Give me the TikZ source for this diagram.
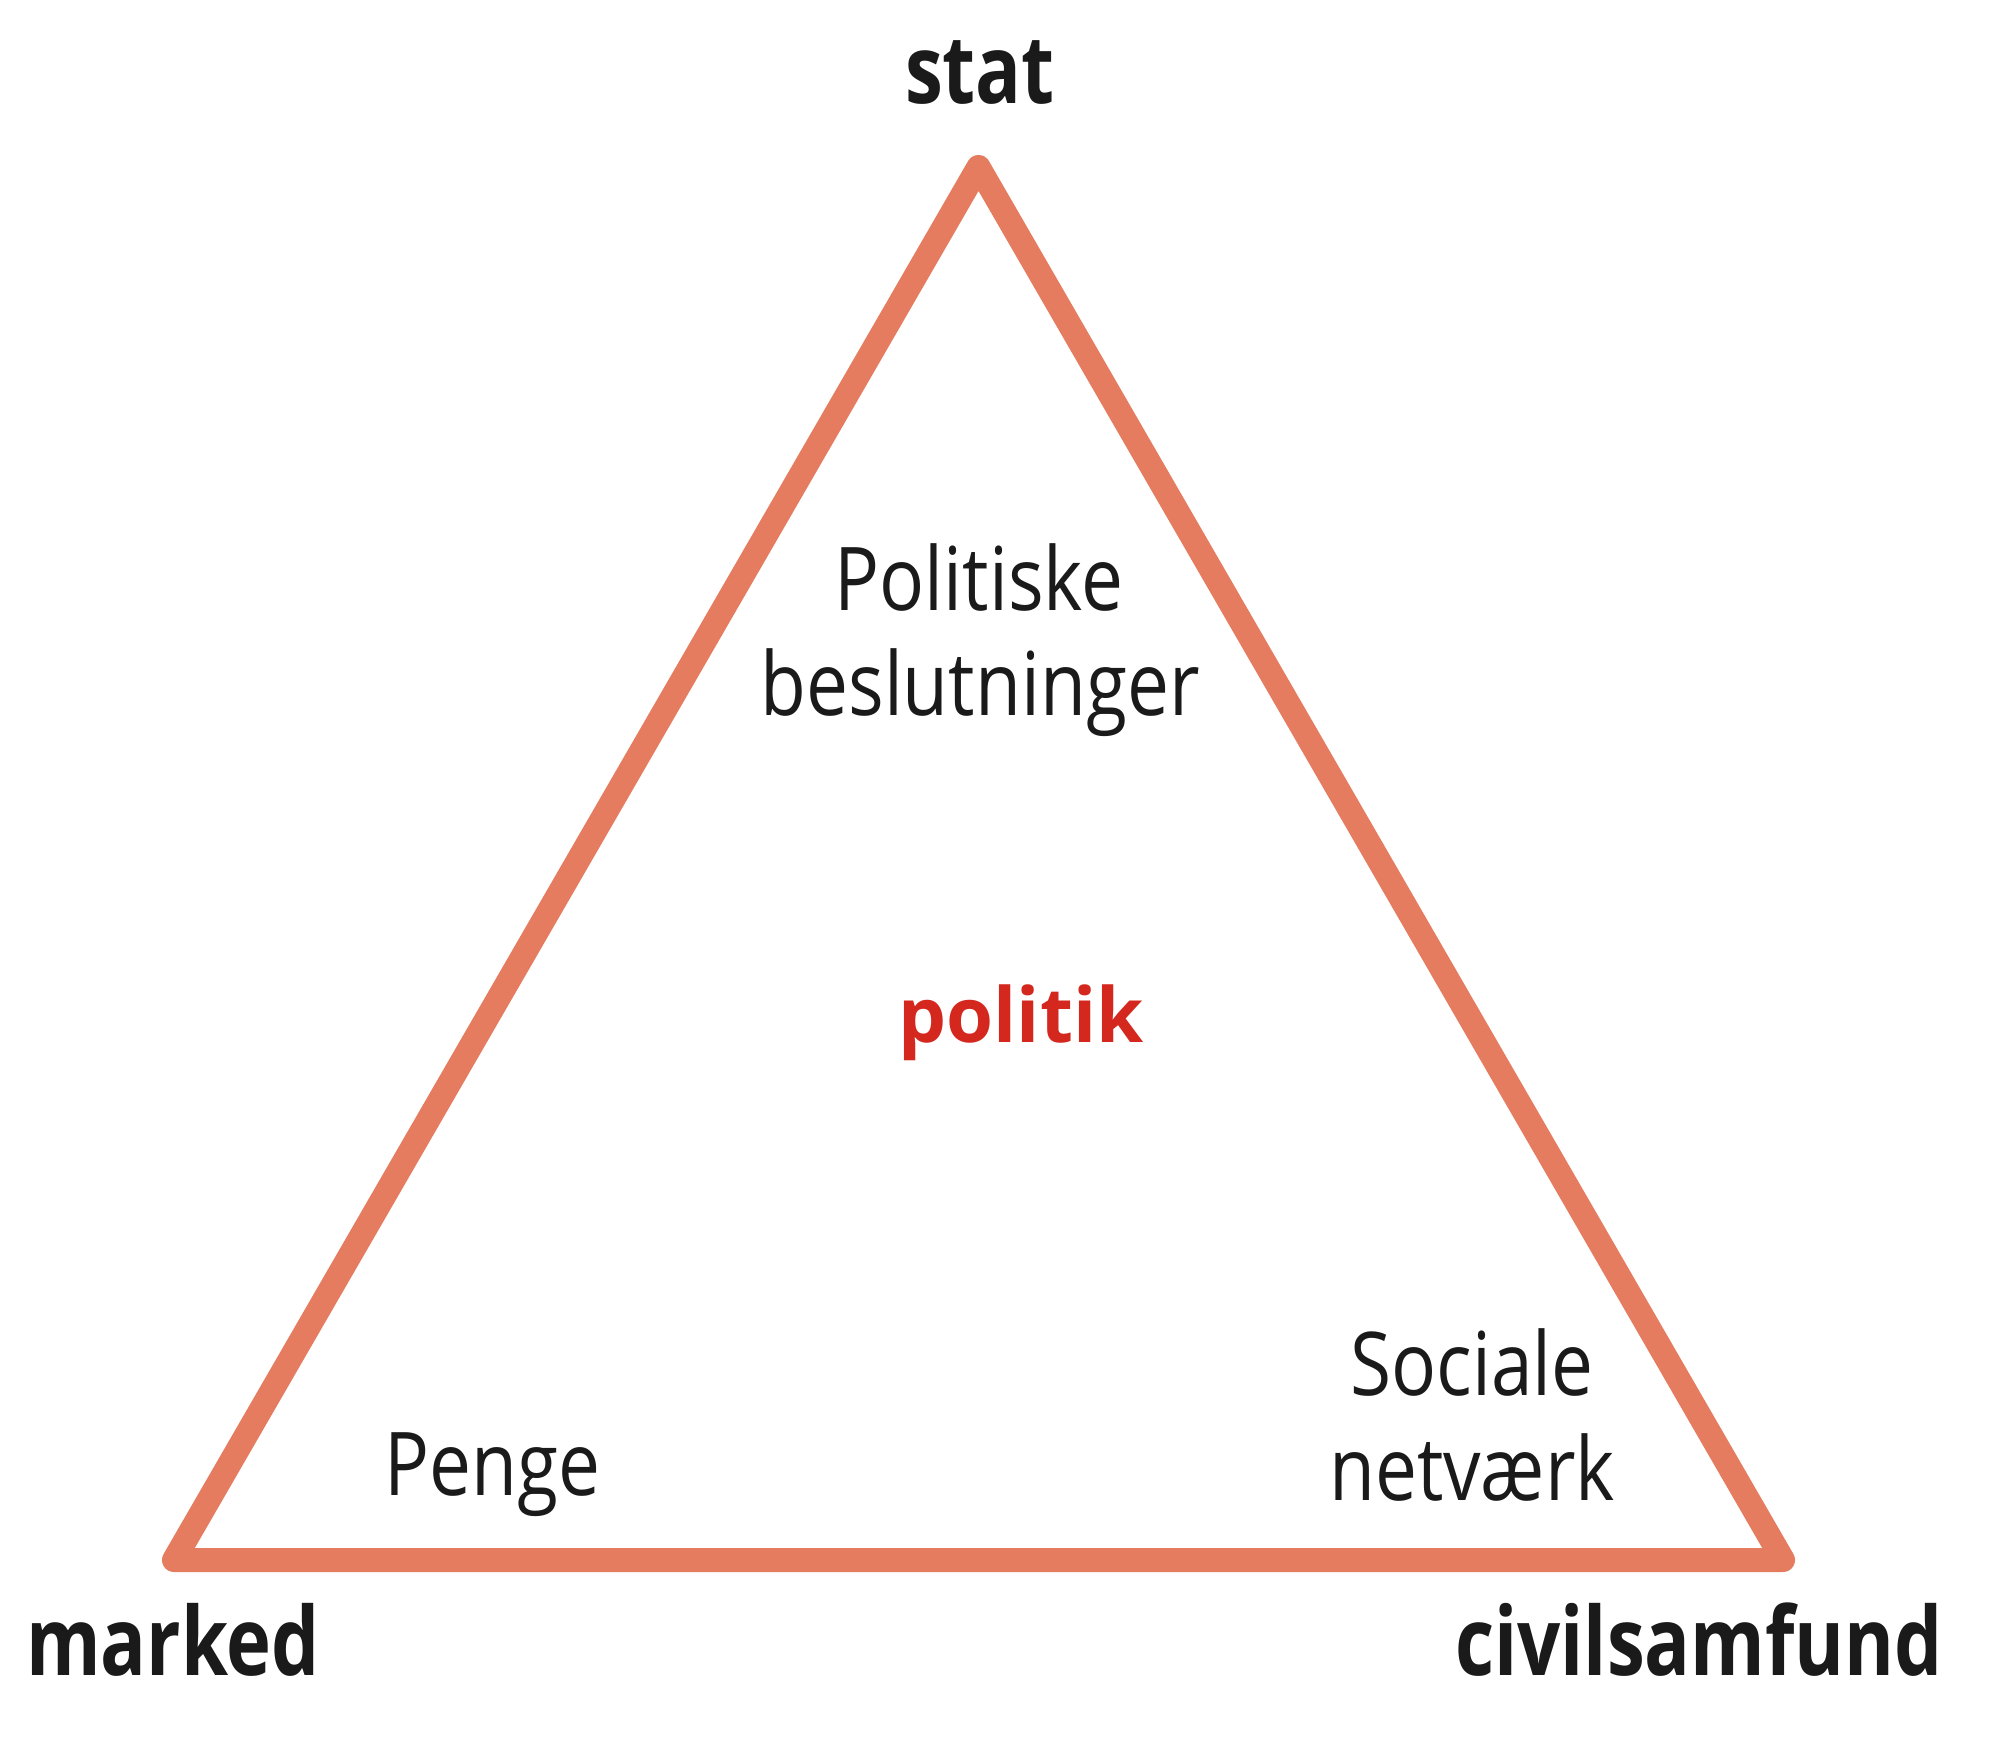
\documentclass[tikz,border=0pt]{standalone}
\usepackage{fontspec}
\newfontfamily\regfont[FakeStretch=0.85]{Open Sans}
\newfontfamily\boldfont[FakeStretch=0.80]{Open Sans}
\newfontfamily\redfont{Open Sans}
\definecolor{tri}{HTML}{E57B5F}
\definecolor{ink}{HTML}{1A1A1A}
\definecolor{polred}{HTML}{D4281E}
\tikzset{
  edge/.style={draw=tri, line width=24pt, line join=round},
  cornerlabel/.style={font={\boldfont\bfseries\fontsize{95}{100}\selectfont}, text=ink, inner sep=0pt},
  innerlabel/.style={font={\regfont\fontsize{88}{92}\selectfont}, text=ink, inner sep=0pt, anchor=base},
  centerlabel/.style={font={\redfont\bfseries\fontsize{76}{80}\selectfont}, text=polred, inner sep=0pt, anchor=base},
}
\begin{document}
\begin{tikzpicture}[x=1pt,y=-1pt]
  \useasboundingbox (0,0) rectangle (2000,1753);
  \coordinate (S) at (978.5,167);
  \coordinate (M) at (174,1560);
  \coordinate (C) at (1783,1560);
  \draw[edge] (S) -- (M) -- (C) -- cycle;
  \node[cornerlabel, anchor=base] (stat) at (980,103) {stat};
  \node[cornerlabel, anchor=base west] (marked) at (26,1675) {marked};
  \node[cornerlabel, anchor=base west] (civil) at (1455,1675) {civilsamfund};
  \node[innerlabel] (pol1) at (979,610) {Politiske};
  \node[innerlabel] (pol2) at (980,715) {beslutninger};
  \node[centerlabel] (politik) at (1021,1042) {politik};
  \node[innerlabel, anchor=base west] (penge) at (384,1495) {Penge};
  \node[innerlabel] (soc1) at (1472,1395) {Sociale};
  \node[innerlabel] (soc2) at (1472,1500) {netværk};
\end{tikzpicture}
\end{document}
